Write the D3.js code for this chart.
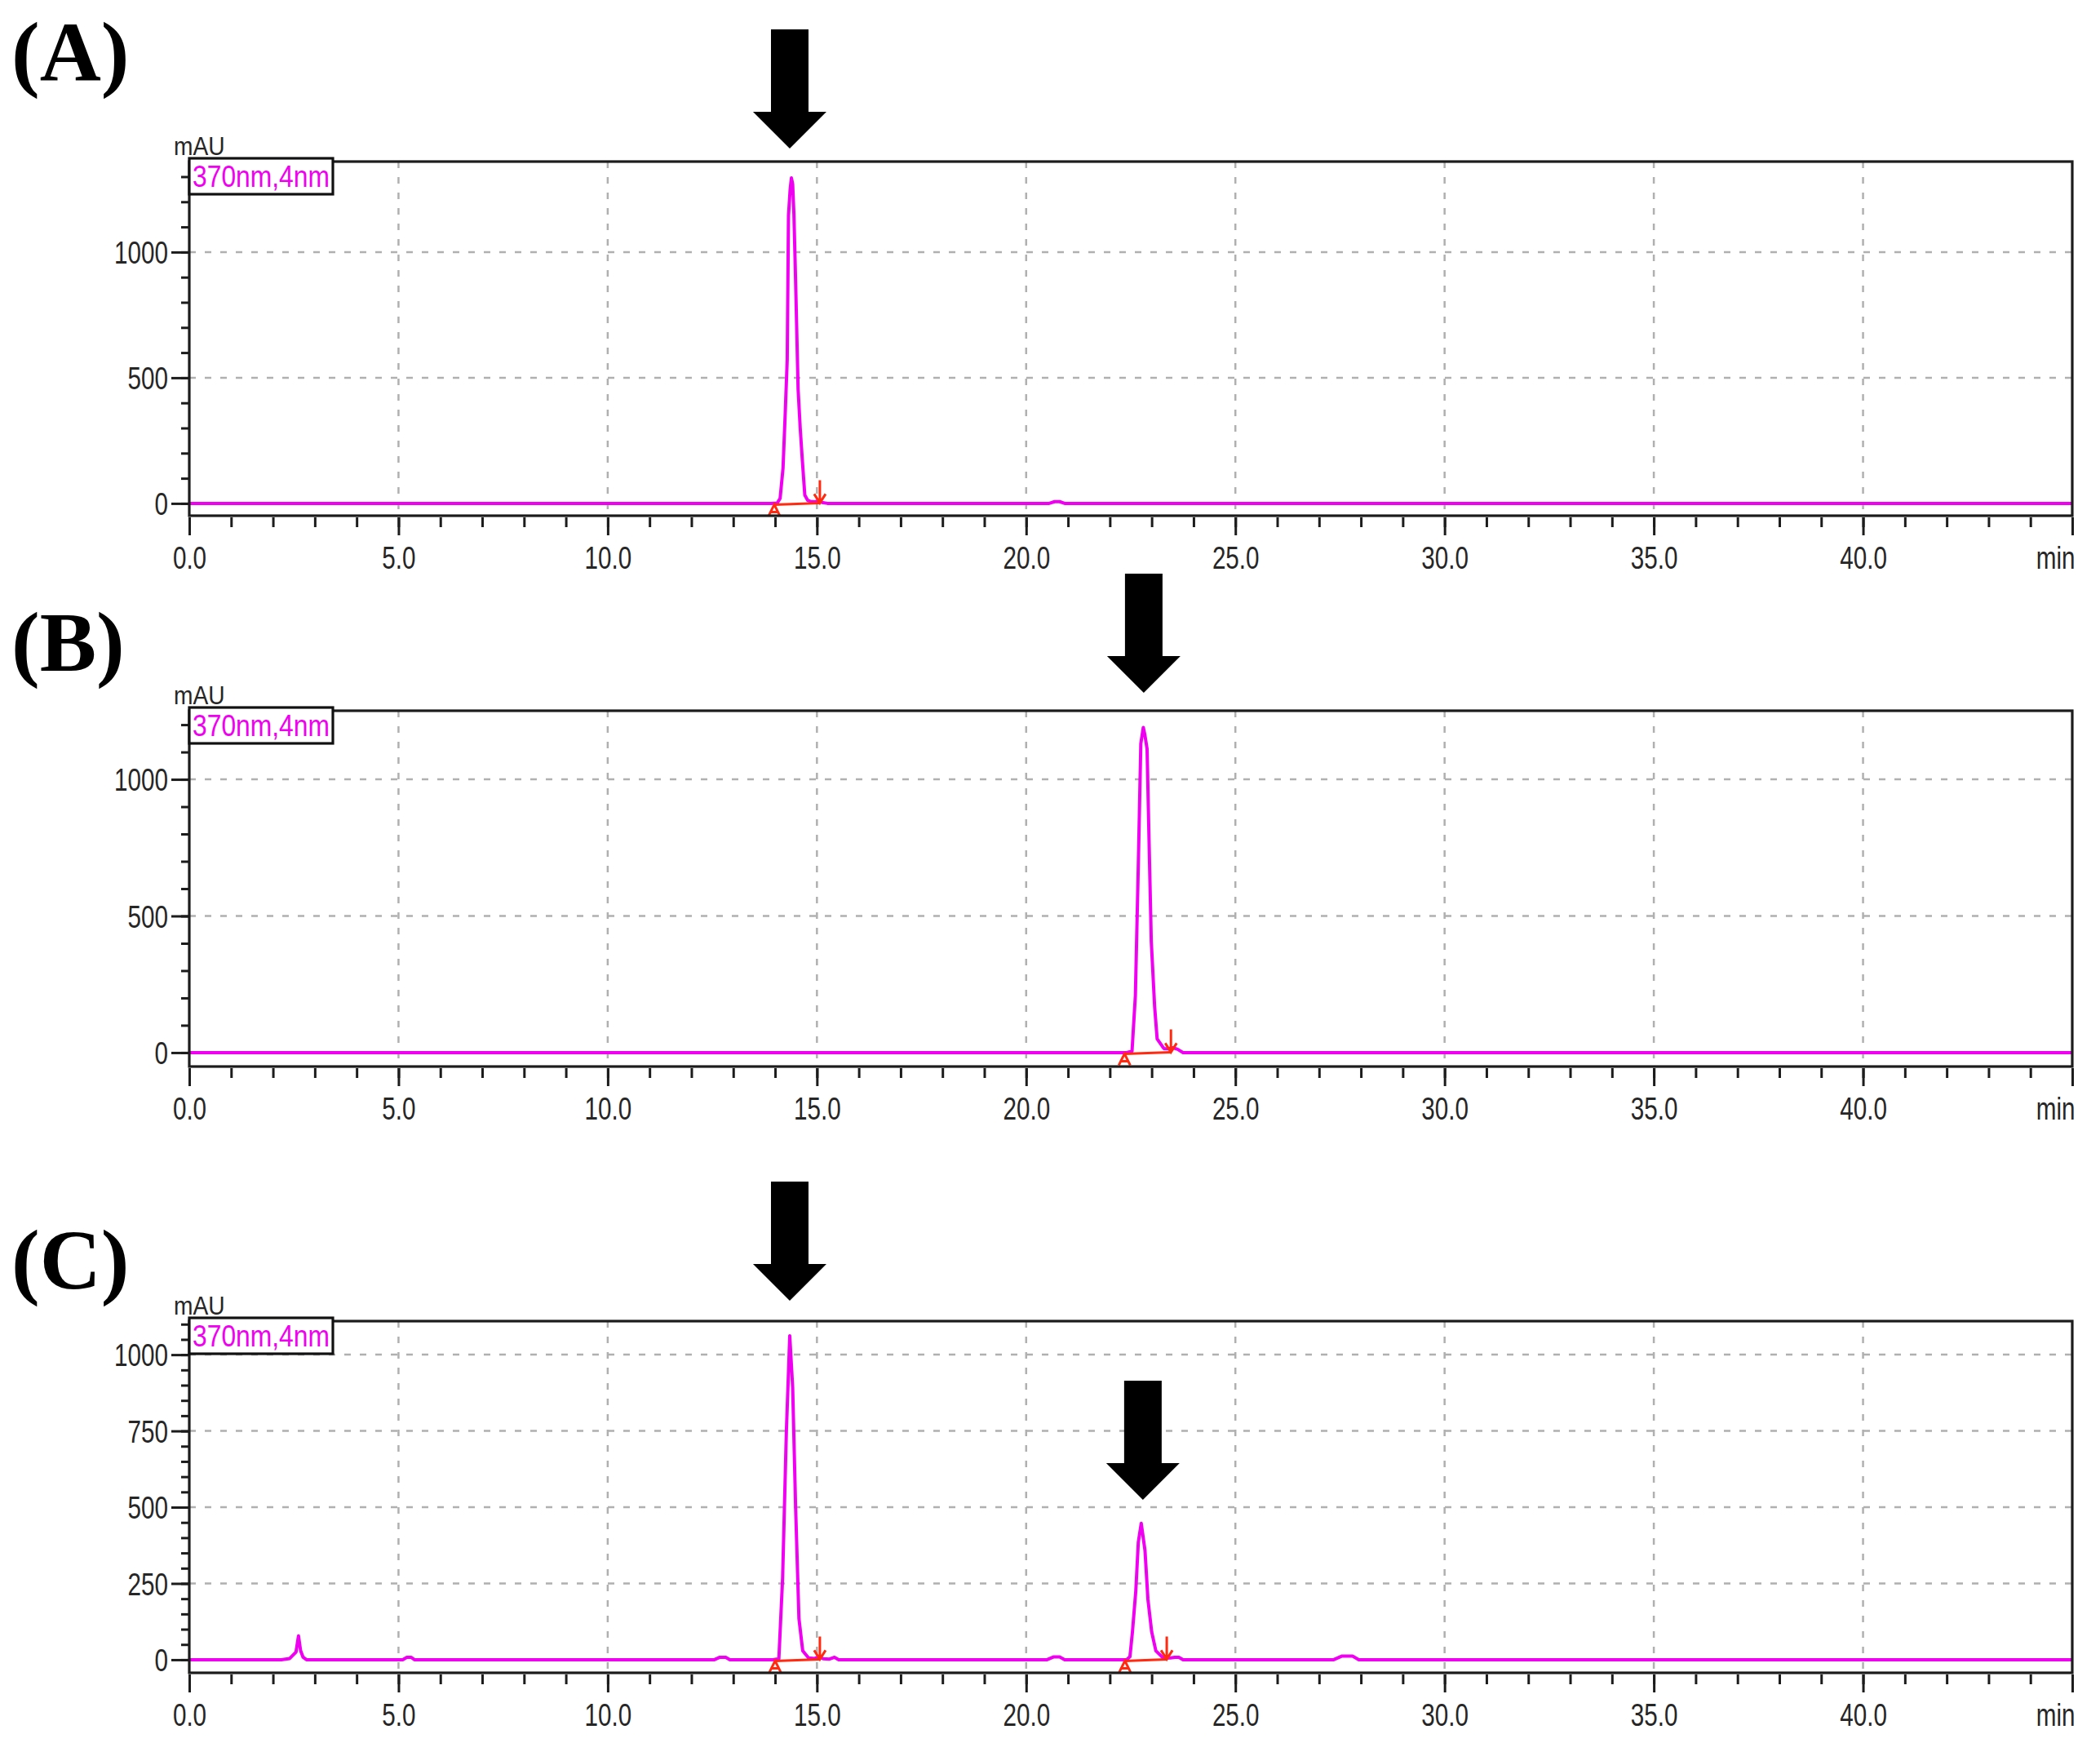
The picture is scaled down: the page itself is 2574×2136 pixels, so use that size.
<!DOCTYPE html>
<html>
<head>
<meta charset="utf-8">
<script src="https://cdn.jsdelivr.net/npm/d3@7"></script>
<style>
  html, body { margin: 0; padding: 0; background: #fff; }
  svg { display: block; }
</style>
</head>
<body>
<script>
// ---------------- DATA ----------------
const panelLabels = ["(A)", "(B)", "(C)"];
const legendText = "370nm,4nm";
const yUnit = "mAU";
const xUnit = "min";

const xMajorTicks = [0, 5, 10, 15, 20, 25, 30, 35, 40, 45];
const xMinorTicks = d3.range(0, 46, 1);

// Panel A trace (time in min, absorbance in mAU)
const timesA  = [0, 13.9, 14.05, 14.12, 14.19, 14.24, 14.29, 14.32, 14.36, 14.39, 14.42, 14.45, 14.49, 14.55, 14.60, 14.65, 14.71, 14.78, 14.84, 14.95, 15.05, 15.12, 15.25, 20.55, 20.68, 20.8, 20.92, 45];
const valuesA = [0, 0,    1,     20,    141,   350,   573,   1145,  1250,  1295,  1270,  1150,  886,   454,   300,   174,   33,    12,    8,     6,     12,    4,     0,     0,     7,     7,    0,     0];
const yMajorA = [0, 500, 1000];
const yMinorA = [0, 100, 200, 300, 400, 500, 600, 700, 800, 900, 1000, 1100, 1200, 1300];
const integA  = [[13.98, 15.07]];
const arrowsA = [14.35];

// Panel B trace
const timesB  = [0, 22.4, 22.53, 22.61, 22.68, 22.74, 22.80, 22.84, 22.89, 22.94, 22.99, 23.07, 23.13, 23.29, 23.4, 23.5, 23.62, 23.75, 45];
const valuesB = [0, 0,    5,     208,   685,   1131,  1190,  1160,  1111,  754,   407,   169,   50,    15,    14,   18,   12,    0,     0];
const yMajorB = [0, 500, 1000];
const yMinorB = [0, 100, 200, 300, 400, 500, 600, 700, 800, 900, 1000, 1100, 1200];
const integB  = [[22.35, 23.46]];
const arrowsB = [22.81];

// Panel C trace
const timesC  = [0, 2.2, 2.4, 2.55, 2.61, 2.66, 2.72, 2.8, 5.1, 5.2, 5.3, 5.38, 12.55, 12.68, 12.82, 12.92, 13.95, 14.09, 14.18, 14.27, 14.33, 14.35, 14.42, 14.49, 14.57, 14.66, 14.8, 14.95, 15.05, 15.15, 15.3, 15.42, 15.52, 20.5, 20.65, 20.8, 20.92, 22.4, 22.48, 22.54, 22.62, 22.68, 22.75, 22.84, 22.91, 23.0, 23.1, 23.28, 23.45, 23.55, 23.65, 23.75, 27.35, 27.55, 27.8, 27.95, 45];
const valuesC = [0, 0,   4,   25,   78,   30,   8,    0,   0,   8,   8,   0,    0,     8,     8,     0,     0,     3,     269,   751,   982,   1062,  893,   501,   135,   29,    6,    4,     10,    3,     2,    8,     0,     0,    9,     9,    0,     0,    10,    91,    225,   385,   447,   358,   198,   91,   29,   5,     6,     8,     8,     0,     0,     12,    12,   0,     0];
const yMajorC = [0, 250, 500, 750, 1000];
const yMinorC = [0, 50, 100, 150, 200, 250, 300, 350, 400, 450, 500, 550, 600, 650, 700, 750, 800, 850, 900, 950, 1000, 1050, 1100];
const integC  = [[14.0, 15.07], [22.36, 23.36]];
const arrowsC = [14.35, 22.79];

// ---------------- LAYOUT ----------------
const W = 2574, H = 2136;
const frameLeft = 232, frameRight = 2540;
const panels = [
  { label: panelLabels[0], labelY: 99,  top: 198,  bottom: 632,  yDomain: [-49, 1360], times: timesA, values: valuesA, yMajor: yMajorA, yMinor: yMinorA, integ: integA, arrows: arrowsA, arrowTops: [36] },
  { label: panelLabels[1], labelY: 822, top: 871,  bottom: 1307, yDomain: [-51, 1251], times: timesB, values: valuesB, yMajor: yMajorB, yMinor: yMinorB, integ: integB, arrows: arrowsB, arrowTops: [703] },
  { label: panelLabels[2], labelY: 1579, top: 1619, bottom: 2050, yDomain: [-43, 1110], times: timesC, values: valuesC, yMajor: yMajorC, yMinor: yMinorC, integ: integC, arrows: arrowsC, arrowTops: [1448, 1692] }
];

const MAGENTA = "#f000f0";
const RED = "#ff2a10";
const TEXT = "#262626";
const SX = 0.78; // horizontal condensing of the instrument font

const svg = d3.select("body").append("svg")
  .attr("width", W).attr("height", H)
  .attr("viewBox", `0 0 ${W} ${H}`);
svg.append("rect").attr("width", W).attr("height", H).attr("fill", "#fff");

const x = d3.scaleLinear().domain([0, 45]).range([frameLeft, frameRight]);

panels.forEach(p => {
  const y = d3.scaleLinear().domain(p.yDomain).range([p.bottom, p.top]);
  const g = svg.append("g");

  // panel label
  svg.append("text")
    .attr("x", 14).attr("y", p.labelY)
    .attr("font-family", "'Liberation Serif', 'Times New Roman', serif")
    .attr("font-weight", "bold").attr("font-size", 104)
    .attr("fill", "#000")
    .text(p.label);

  // grid lines
  const grid = g.append("g")
    .attr("stroke", "#b0b0b0").attr("stroke-width", 2.5)
    .attr("stroke-dasharray", "8,11");
  grid.selectAll("line.v").data(xMajorTicks.filter(d => d > 0 && d < 45)).join("line")
    .attr("x1", d => x(d)).attr("x2", d => x(d))
    .attr("y1", p.top).attr("y2", p.bottom);
  grid.selectAll("line.h").data(p.yMajor.filter(d => d > 0)).join("line")
    .attr("x1", frameLeft).attr("x2", frameRight)
    .attr("y1", d => y(d)).attr("y2", d => y(d));

  // trace
  const pts = p.times.map((t, i) => [t, p.values[i]]);
  const line = d3.line().x(d => x(d[0])).y(d => y(d[1]));
  g.append("path").datum(pts)
    .attr("d", line)
    .attr("fill", "none")
    .attr("stroke", MAGENTA)
    .attr("stroke-width", 4)
    .attr("stroke-linejoin", "round");

  // integration baseline + markers
  const ig = g.append("g").attr("stroke", RED).attr("fill", "none").attr("stroke-width", 3);
  p.integ.forEach(([s, e]) => {
    const xs = x(s), xe = x(e), y0 = y(0) + 1.5;
    ig.append("line").attr("x1", xs).attr("x2", xe).attr("y1", y0).attr("y2", y0 - 2);
    ig.append("path").attr("d", `M${xs - 7},${y0 + 14} L${xs},${y0} L${xs + 7},${y0 + 14} M${xs - 5},${y0 + 9} L${xs + 5},${y0 + 9}`);
    ig.append("path").attr("d", `M${xe},${y0 - 30} L${xe},${y0 - 2} M${xe - 7},${y0 - 13} L${xe},${y0 - 2} L${xe + 7},${y0 - 13}`);
  });

  // frame
  g.append("rect")
    .attr("x", frameLeft).attr("y", p.top)
    .attr("width", frameRight - frameLeft).attr("height", p.bottom - p.top)
    .attr("fill", "none").attr("stroke", "#1c1c1c").attr("stroke-width", 3.2);

  // y axis (minor + major)
  const yMin = g.append("g").attr("transform", `translate(${frameLeft},0)`)
    .call(d3.axisLeft(y).tickValues(p.yMinor).tickSize(10).tickFormat(""));
  yMin.select(".domain").remove();
  yMin.selectAll("line").attr("stroke", "#1c1c1c").attr("stroke-width", 3);

  const yMaj = g.append("g").attr("transform", `translate(${frameLeft},0)`)
    .call(d3.axisLeft(y).tickValues(p.yMajor).tickSize(22).tickFormat(d3.format("d")));
  yMaj.select(".domain").remove();
  yMaj.selectAll("line").attr("stroke", "#1c1c1c").attr("stroke-width", 3);
  yMaj.selectAll("text")
    .attr("x", -26 / SX).attr("dy", "0.36em")
    .attr("transform", `scale(${SX},1)`)
    .attr("text-anchor", "end")
    .attr("font-family", "'Liberation Sans', Arial, sans-serif")
    .attr("font-size", 38).attr("fill", TEXT);

  // x axis (minor + major)
  const xMin = g.append("g").attr("transform", `translate(0,${p.bottom + 2})`)
    .call(d3.axisBottom(x).tickValues(xMinorTicks).tickSize(12).tickFormat(""));
  xMin.select(".domain").remove();
  xMin.selectAll("line").attr("stroke", "#1c1c1c").attr("stroke-width", 3);

  const xMaj = g.append("g").attr("transform", `translate(0,${p.bottom + 2})`)
    .call(d3.axisBottom(x).tickValues(xMajorTicks).tickSize(22)
      .tickFormat(d => d === 45 ? xUnit : d.toFixed(1)));
  xMaj.select(".domain").remove();
  xMaj.selectAll("line").attr("stroke", "#1c1c1c").attr("stroke-width", 3);
  xMaj.selectAll("text")
    .attr("y", 63).attr("dy", null)
    .attr("transform", `scale(${SX},1)`)
    .attr("text-anchor", d => d === 45 ? "end" : "middle")
    .attr("x", d => d === 45 ? 3 / SX : 0)
    .attr("font-family", "'Liberation Sans', Arial, sans-serif")
    .attr("font-size", 38).attr("fill", TEXT);

  // unit label
  svg.append("text")
    .attr("transform", `translate(213,${p.top - 8}) scale(0.88,1)`)
    .attr("font-family", "'Liberation Sans', Arial, sans-serif")
    .attr("font-size", 32).attr("fill", TEXT)
    .text(yUnit);

  // legend box
  g.append("rect")
    .attr("x", frameLeft).attr("y", p.top - 4)
    .attr("width", 176).attr("height", 44)
    .attr("fill", "#fff").attr("stroke", "#111").attr("stroke-width", 3.2);
  g.append("text")
    .attr("x", frameLeft + 4).attr("y", p.top + 31)
    .attr("font-family", "'Liberation Sans', Arial, sans-serif")
    .attr("font-size", 36).attr("fill", MAGENTA)
    .attr("textLength", 168).attr("lengthAdjust", "spacingAndGlyphs")
    .text(legendText);

  // arrows pointing at the peaks of interest
  p.arrows.forEach((t, i) => {
    const cx = x(t), top = p.arrowTops[i];
    const shaftW = 23, headW = 45, shaftH = 101, headH = 45;
    svg.append("path")
      .attr("d", `M${cx - shaftW},${top} L${cx + shaftW},${top} L${cx + shaftW},${top + shaftH} L${cx + headW},${top + shaftH} L${cx},${top + shaftH + headH} L${cx - headW},${top + shaftH} L${cx - shaftW},${top + shaftH} Z`)
      .attr("fill", "#000");
  });
});
</script>
</body>
</html>
